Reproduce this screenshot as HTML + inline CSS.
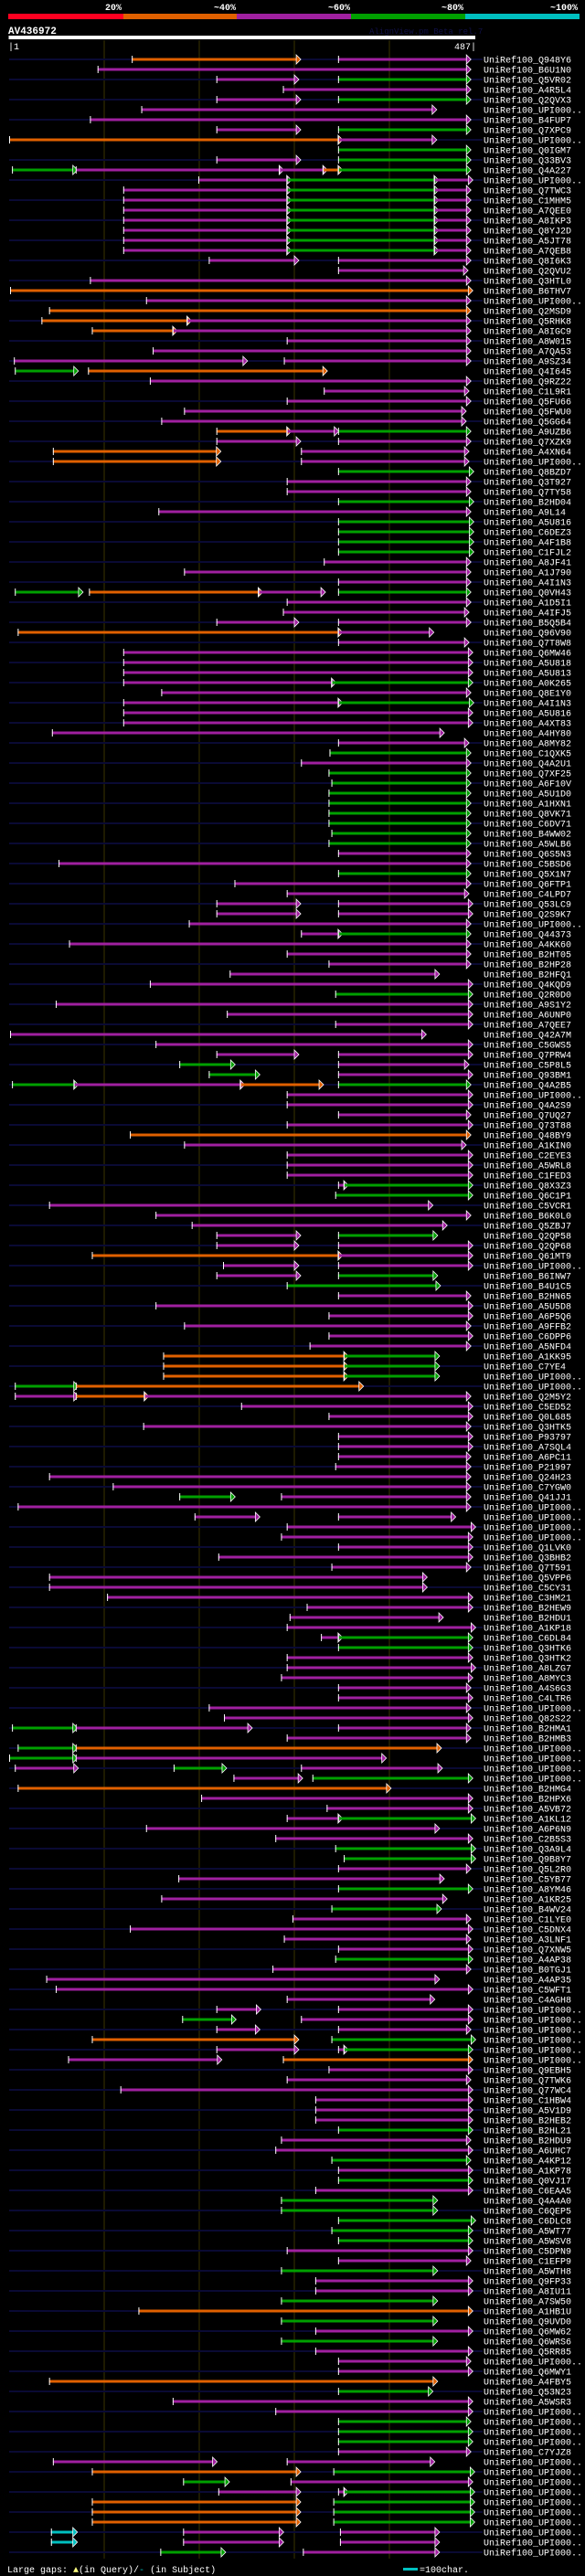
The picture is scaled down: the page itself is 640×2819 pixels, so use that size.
<!DOCTYPE html>
<html><head><meta charset="utf-8"><style>
html,body{margin:0;padding:0;background:#000;}
svg{display:block;}
text{font-family:"Liberation Mono",monospace;}
</style></head><body>
<svg id="chart" width="640" height="2819" viewBox="0 0 640 2819" xmlns="http://www.w3.org/2000/svg">
<rect x="0" y="0" width="640" height="2819" fill="#000"/>
<g>
<text x="133" y="11" fill="#fff" font-size="10" font-weight="bold" text-anchor="end">20%</text>
<text x="258" y="11" fill="#fff" font-size="10" font-weight="bold" text-anchor="end">~40%</text>
<text x="383" y="11" fill="#fff" font-size="10" font-weight="bold" text-anchor="end">~60%</text>
<text x="507" y="11" fill="#fff" font-size="10" font-weight="bold" text-anchor="end">~80%</text>
<text x="632" y="11" fill="#fff" font-size="10" font-weight="bold" text-anchor="end">~100%</text>
<rect x="9" y="15" width="126" height="6" fill="#ff0020"/>
<rect x="135" y="15" width="124" height="6" fill="#e06000"/>
<rect x="259" y="15" width="125" height="6" fill="#a020a0"/>
<rect x="384" y="15" width="125" height="6" fill="#00a000"/>
<rect x="509" y="15" width="125" height="6" fill="#00c0c0"/>
</g>
<text x="9" y="37" fill="#fff" font-size="11" font-weight="bold">AV436972</text>
<text x="404" y="37" fill="#101048" font-size="9">AlignView.pm Beta rel.7</text>
<rect x="9.5" y="39" width="510.5" height="4" fill="#fff"/>
<text x="9" y="54" fill="#fff" font-size="10">|1</text>
<text x="521" y="54" fill="#fff" font-size="10" text-anchor="end">487|</text>
<g id="grid"></g>
<g id="rows"></g>
<g>
<text x="8" y="2815" fill="#fff" font-size="10">Large gaps: <tspan fill="#ffff80">▲</tspan>(in Query)/<tspan fill="#00c0c0">-</tspan> (in Subject)</text>
<rect x="441" y="2810" width="16" height="3" fill="#00c0c0"/>
<text x="459" y="2815" fill="#fff" font-size="10">=100char.</text>
</g>
</svg>
<script>
// query positions of HSPs per hit row (color letter + start-end in query residues)
const hspRows = [
"O129-302,P346-481","P93-481","P218-300,G346-481","P288-481","P218-302,G346-481",
"P139-445","P85-481","P218-302,G346-481","O0-346,P346-445","G346-481",
"P218-302,G346-481","G3-67,P70-284,P284-330,O330-346,G346-481","P199-292,G292-447,P447-483","P120-292,G292-447,P447-481","P120-292,G292-447,P447-481",
"P120-292,G292-447,P447-481","P120-292,G292-447,P447-481","P120-292,G292-447,P447-481","P120-292,G292-447,P447-481","P120-292,G292-447,P447-481",
"P210-300,P346-481","P346-478","P85-481","O1-483","P144-481",
"O42-481","O34-187,P187-481","O87-172,P172-481","P292-481","P151-481",
"P5-246,P289-481","G6-68,O83-330","P148-481","P331-479","P292-481",
"P184-476","P160-476","O218-292,P292-342,G346-481","P218-302,P346-481","O46-218,P307-479",
"O46-218,P307-479","G346-484","P292-481","P292-481","G346-484",
"P157-481","G346-484","G346-484","G346-484","G346-484",
"P331-481","P184-481","P346-481","G6-73,O84-262,P262-328,G346-481","P292-481",
"P288-479","P218-300,P346-481","O9-346,P346-442","P346-479","P120-483",
"P120-483","P120-483","P120-339,G339-483","P160-481","P120-346,G346-484",
"P120-483","P120-483","P45-453","P346-479","G337-481",
"P307-481","G336-481","G339-481","G336-481","G336-481",
"G336-481","G336-481","G339-481","G336-481","P346-481",
"P52-481","G346-481","P237-481","P292-479","P218-302,P346-483",
"P218-302,P346-483","P189-481","P307-346,G346-481","P63-481","P292-481",
"P336-481","P232-448","P148-483","G343-483","P49-483",
"P229-483","P343-483","P1-434","P154-483","P218-300,P346-483",
"G179-233,P346-479","G210-259,P346-483","G3-68,P68-243,O243-326,G346-481","P292-483","P292-483",
"P346-481","P292-483","O127-481","P184-476","P292-483",
"P292-483","P292-483","P346-352,G352-483","G343-483","P42-441",
"P154-481","P192-456","P218-302,G346-446","P218-300,P346-483","O87-346,P346-483",
"P225-300,P346-483","P218-302,G346-446","G292-449","P346-481","P154-483",
"P336-483","P184-481","P336-483","P316-481","O162-352,G352-448",
"O162-352,G352-448","O162-352,G352-448","G6-68,O70-368","P6-68,O70-142,P142-481","P244-483",
"P336-483","P141-481","P346-483","P346-483","P346-481",
"P343-481","P42-481","P109-481","G179-233,P286-481","P9-481",
"P195-259,P346-465","P292-486","P286-483","P346-483","P220-483",
"P339-481","P42-435","P42-435","P103-483","P313-483",
"P295-452","P292-486","P328-346,G346-483","G346-483","P292-483",
"P292-486","P286-483","P346-481","P346-483","P210-481",
"P226-483","G3-67,P70-251,P346-481","P292-481","G9-67,O70-450","G0-67,P70-392",
"P6-68,G173-224,P307-451","P236-304,G319-483","O9-397","P202-483","P334-483",
"P292-346,G346-486","P144-448","P280-483","G343-486","G352-486",
"P346-481","P178-453","G346-483","P160-456","G339-450",
"P298-481","P127-483","P289-481","P346-483","G343-483",
"P277-481","P39-448","P49-483","P292-443","P218-260,P346-483",
"G182-234,P307-483","P218-259,P346-481","O87-300,G339-486","P218-300,P346-352,G352-483","P62-219,O288-483",
"P336-483","P292-481","P117-483","P322-483","P322-483",
"P322-483","G346-483","P286-481","P280-483","G339-481",
"P346-483","G346-483","P322-483","G286-446","G286-446",
"G346-486","G339-483","G346-483","P292-483","P346-481",
"G286-446","P322-483","P322-483","G286-446","O136-483",
"G286-446","P322-483","G286-446","P322-483","P346-481",
"P346-483","O42-446","G346-441","P172-483","P280-483",
"G346-481","G346-483","G346-483","P346-481","P46-214,P292-443",
"O87-302,G341-485","G183-227,P296-483","P220-302,P346-352,G352-485","O87-302,G341-485","O87-302,G341-485",
"O87-302,G341-485","C44-67,P183-284,P348-448","C44-67,P183-284,P348-448","G159-223,P309-448"
];
const hitLabels = ["Q948Y6","B6U1N0","Q5VR02","A4R5L4","Q2QVX3","UPI000..","B4FUP7","Q7XPC9","UPI000..","Q0IGM7","Q33BV3","Q4A227","UPI000..","Q7TWC3","C1MHM5","A7QEE0","A8IKP3","Q8YJ2D","A5JT78","A7QEB8","Q8I6K3","Q2QVU2","Q3HTL0","B6THV7","UPI000..","Q2MSD9","Q5RHK8","A8IGC9","A8W015","A7QA53","A9SZ34","Q4I645","Q9RZ22","C1L9R1","Q5FU66","Q5FWU0","Q5GG64","A9UZB6","Q7XZK9","A4XN64","UPI000..","Q8BZD7","Q3T927","Q7TY58","B2HD04","A9L14","A5U816","C6DEZ3","A4F1B8","C1FJL2","A8JF41","A1J790","A4I1N3","Q0VH43","A1D5I1","A4IFJ5","B5Q5B4","Q96V90","Q7T8W8","Q6MW46","A5U818","A5U813","A0K265","Q8E1Y0","A4I1N3","A5U816","A4XT83","A4HY80","A8MY82","C1QXK5","Q4A2U1","Q7XF25","A6F10V","A5U1D0","A1HXN1","Q8VK71","C6DV71","B4WW02","A5WLB6","Q6S5N3","C5BSD6","Q5X1N7","Q6FTP1","C4LPD7","Q53LC9","Q2S9K7","UPI000..","Q44373","A4KK60","B2HT05","B2HP28","B2HFQ1","Q4KQD9","Q2R0D0","A9S1Y2","A6UNP0","A7QEE7","Q42A7M","C5GWS5","Q7PRW4","C5P8L5","Q93BM1","Q4A2B5","UPI000..","Q4A2S9","Q7UQ27","Q73T88","Q48BY9","A1KIN0","C2EYE3","A5WRL8","C1FED3","Q8X3Z3","Q6C1P1","C5VCR1","B6K0L0","Q5ZBJ7","Q2QP58","Q2QP68","Q61MT9","UPI000..","B6INW7","B4U1C5","B2HN65","A5U5D8","A6P5Q6","A9FFB2","C6DPP6","A5NFD4","A1KK95","C7YE4","UPI000..","UPI000..","Q2M5Y2","C5ED52","Q0L685","Q3HTK5","P93797","A7SQL4","A6PC11","P21997","Q24H23","C7YGW0","Q41JJ1","UPI000..","UPI000..","UPI000..","UPI000..","Q1LVK0","Q3BHB2","Q7T591","Q5VPP6","C5CY31","C3HM21","B2HEW9","B2HDU1","A1KP18","C6DL84","Q3HTK6","Q3HTK2","A8LZG7","A8MYC3","A4S6G3","C4LTR6","UPI000..","Q82S22","B2HMA1","B2HMB3","UPI000..","UPI000..","UPI000..","UPI000..","B2HMG4","B2HPX6","A5VB72","A1KL12","A6P6N9","C2B5S3","Q3A9L4","Q9B8Y7","Q5L2R0","C5YB77","A8YM46","A1KR25","B4WV24","C1LYE0","C5DNX4","A3LNF1","Q7XNW5","A4AP38","B0TGJ1","A4AP35","C5WFT1","C4AGH8","UPI000..","UPI000..","UPI000..","UPI000..","UPI000..","UPI000..","Q9EBH5","Q7TWK6","Q77WC4","C1HBW4","A5V1D9","B2HEB2","B2HL21","B2HDU9","A6UHC7","A4KP12","A1KP78","Q0VJ17","C6EAA5","Q4A4A0","C6QEP5","C6DLC8","A5WT77","A5WSV8","C5DPN9","C1EFP9","A5WTH8","Q9FP33","A8IU11","A7SW50","A1HB1U","Q9UVD0","Q6MW62","Q6WRS6","Q5RR85","UPI000..","Q6MWY1","A4FBY5","Q53N23","A5WSR3","UPI000..","UPI000..","UPI000..","UPI000..","C7YJZ8"];
// axis and layout
const qMax = 487;
const rowTop = 65, rowStep = 11;
const colorMap = {O:"#e06000", P:"#a020a0", G:"#00a000", C:"#00c0c0", R:"#ff0020"};
function xOf(pos){ return 10 + pos * 1.04; }
function yOf(i){ return rowTop + i * rowStep; }
const NS = "http://www.w3.org/2000/svg";
function mk(tag, attrs, parent){ const e=document.createElementNS(NS,tag); for(const k in attrs) e.setAttribute(k,attrs[k]); parent.appendChild(e); return e; }
const grid = document.getElementById('grid');
const gridTicks = [100,200,300,400];
gridTicks.forEach(function(t){
  const l = mk('line',{x1:xOf(t),x2:xOf(t),y1:44,y2:2800,stroke:"#3a3400","stroke-width":1},grid);
  
  
});
const rowsG = document.getElementById('rows');
hspRows.forEach(function(spec, i){
  const y = yOf(i);
  const g = mk('g',{},rowsG);
  
  
  if(i % 2 === 0){
    const bg = mk('rect',{x:10,y:y-1,width:518,height:2,fill:"#0a0a34"},g);
    
    
  }
  spec.split(',').forEach(function(s){
    const c = colorMap[s[0]];
    const parts = s.slice(1).split('-');
    const a = +parts[0], b = +parts[1];
    const x1 = xOf(a), x2 = xOf(b);
    const bar = mk('rect',{x:x1,y:y-1.5,width:Math.max(1,x2-x1),height:3,fill:c},g);
    
    
    const tick = mk('line',{x1:x1+0.5,x2:x1+0.5,y1:y-4,y2:y+4,stroke:"#fff","stroke-width":1},g);
    
    
    const arr = mk('polygon',{points:(x2)+","+(y-5)+" "+(x2+5)+","+y+" "+(x2)+","+(y+5),fill:c,stroke:"#fff","stroke-width":0.8},g);
    
    
  });
  const t = mk('text',{x:529,y:y+3.5,fill:"#fff","font-size":10},g);
  
  
  t.textContent = "UniRef100_" + (hitLabels[i] || "UPI000..");
});
</script>
</body></html>
